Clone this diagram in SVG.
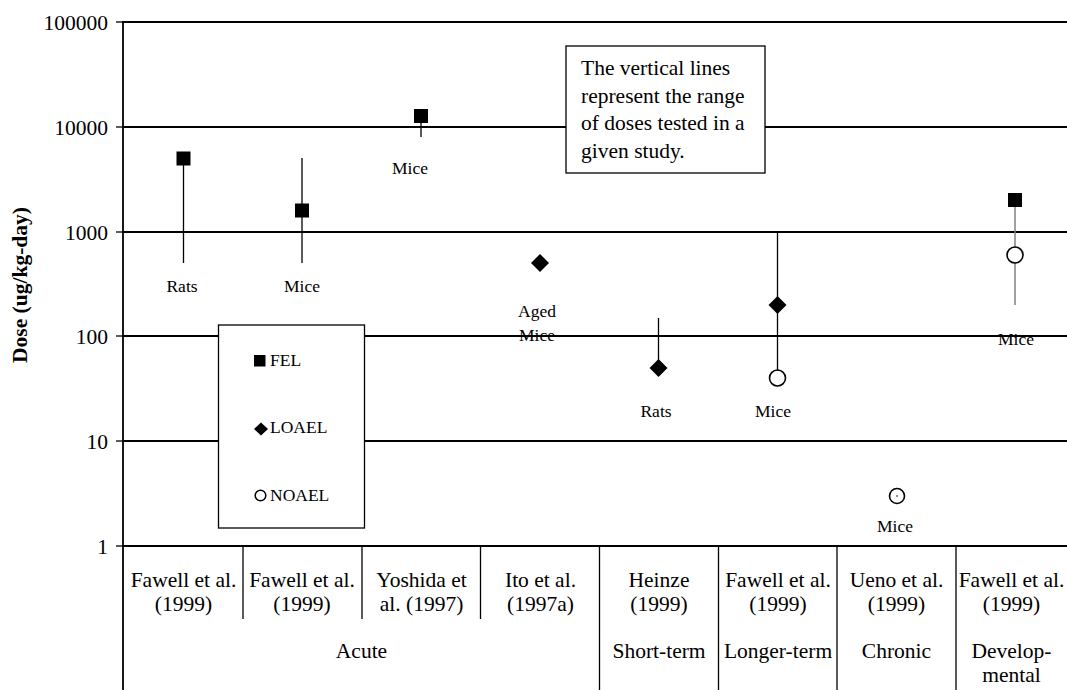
<svg xmlns="http://www.w3.org/2000/svg" width="1067" height="690" viewBox="0 0 1067 690" font-family="'Liberation Serif', 'DejaVu Serif', serif">
<style>
text{font-family:'Liberation Serif','DejaVu Serif',serif;fill:#000}
.t{font-size:21.5px}
.tk{font-size:21.5px;text-anchor:end}
.c{font-size:21.5px;text-anchor:middle}
.d{font-size:17.5px;text-anchor:middle}
.lg{font-size:17.5px}
.grid{stroke:#000;stroke-width:1.8;fill:none}
.ax{stroke:#000;stroke-width:1.3;fill:none}
.rng{stroke:#000;stroke-width:1.3}
.sq{fill:#000}
.ci{fill:#fff;stroke:#000;stroke-width:1.6}
.box{fill:#fff;stroke:#000;stroke-width:1.3}
</style>
<rect width="1067" height="690" fill="#fff"/>
<g id="axes">
<g class="grid">
<line x1="123" y1="22" x2="1067" y2="22"/>
<line x1="123" y1="127" x2="1067" y2="127"/>
<line x1="123" y1="232" x2="1067" y2="232"/>
<line x1="123" y1="336" x2="1067" y2="336"/>
<line x1="123" y1="441" x2="1067" y2="441"/>
<line x1="123" y1="546" x2="1067" y2="546"/>
<line x1="123" y1="21" x2="123" y2="690"/>
</g>
<g class="ax">
<line x1="116" y1="22" x2="123" y2="22"/>
<line x1="116" y1="127" x2="123" y2="127"/>
<line x1="116" y1="232" x2="123" y2="232"/>
<line x1="116" y1="336" x2="123" y2="336"/>
<line x1="116" y1="441" x2="123" y2="441"/>
<line x1="116" y1="546" x2="123" y2="546"/>
<line x1="243" y1="546" x2="243" y2="619"/>
<line x1="362" y1="546" x2="362" y2="619"/>
<line x1="480.5" y1="546" x2="480.5" y2="619"/>
<line x1="599.5" y1="546" x2="599.5" y2="690"/>
<line x1="718.5" y1="546" x2="718.5" y2="690"/>
<line x1="837" y1="546" x2="837" y2="690"/>
<line x1="956" y1="546" x2="956" y2="690"/>
</g>
<text class="tk" x="108" y="29.5">100000</text>
<text class="tk" x="108" y="134.5">10000</text>
<text class="tk" x="108" y="239.5">1000</text>
<text class="tk" x="108" y="343.5">100</text>
<text class="tk" x="108" y="448.5">10</text>
<text class="tk" x="108" y="553.5">1</text>
<text x="27" y="285" font-size="21.5" font-weight="bold" text-anchor="middle" transform="rotate(-90 27 285)">Dose (ug/kg-day)</text>
</g>
<g id="categories">
<text class="c" x="183.5" y="587">Fawell et al.</text>
<text class="c" x="183.5" y="611">(1999)</text>
<text class="c" x="302" y="587">Fawell et al.</text>
<text class="c" x="302" y="611">(1999)</text>
<text class="c" x="421.5" y="587">Yoshida et</text>
<text class="c" x="421.5" y="611">al. (1997)</text>
<text class="c" x="540.5" y="587">Ito et al.</text>
<text class="c" x="540.5" y="611">(1997a)</text>
<text class="c" x="659" y="587">Heinze</text>
<text class="c" x="659" y="611">(1999)</text>
<text class="c" x="778" y="587">Fawell et al.</text>
<text class="c" x="778" y="611">(1999)</text>
<text class="c" x="896.5" y="587">Ueno et al.</text>
<text class="c" x="896.5" y="611">(1999)</text>
<text class="c" x="1011.5" y="587">Fawell et al.</text>
<text class="c" x="1011.5" y="611">(1999)</text>
<text class="c" x="361.5" y="658">Acute</text>
<text class="c" x="659" y="658">Short-term</text>
<text class="c" x="778" y="658">Longer-term</text>
<text class="c" x="896.5" y="658">Chronic</text>
<text class="c" x="1011.5" y="658">Develop-</text>
<text class="c" x="1011.5" y="682">mental</text>
</g>
<g id="connectors">
<line class="rng" x1="183.5" y1="158" x2="183.5" y2="263"/>
<line class="rng" x1="302" y1="158" x2="302" y2="263"/>
<line class="rng" x1="421" y1="116" x2="421" y2="137"/>
<line class="rng" x1="658.5" y1="318" x2="658.5" y2="368"/>
<line class="rng" x1="777.5" y1="232" x2="777.5" y2="378"/>
<line x1="1015" y1="200" x2="1015" y2="305" stroke="#808080" stroke-width="1.5"/>
</g>
<g id="s1"><rect class="sq" x="176.5" y="151.5" width="14" height="14"/><text class="d" x="182" y="292">Rats</text></g>
<g id="s2"><rect class="sq" x="295" y="203.5" width="14" height="14"/><text class="d" x="302" y="292">Mice</text></g>
<g id="s3"><rect class="sq" x="414" y="109" width="14" height="14"/><text class="d" x="410" y="174">Mice</text></g>
<g id="s4"><polygon class="sq" points="540,254 549,263 540,272 531,263"/><text class="d" x="537" y="317">Aged</text><text class="d" x="537" y="341">Mice</text></g>
<g id="s5"><polygon class="sq" points="658.5,359 667.5,368 658.5,377 649.5,368"/><text class="d" x="656" y="417">Rats</text></g>
<g id="s6"><polygon class="sq" points="777.5,296 786.5,305 777.5,314 768.5,305"/><circle class="ci" cx="777.5" cy="378" r="8"/><text class="d" x="773" y="417">Mice</text></g>
<g id="s7"><circle class="ci" cx="897" cy="496" r="7.5"/><circle cx="897" cy="496" r="0.8" fill="#000"/><text class="d" x="895" y="532">Mice</text></g>
<g id="s8"><rect class="sq" x="1008" y="193" width="14" height="14"/><circle class="ci" cx="1015" cy="255" r="8"/><text class="d" x="1016" y="345">Mice</text></g>
<g id="legend">
<rect class="box" x="218.5" y="325" width="146" height="203"/>
<rect class="sq" x="254" y="355" width="11.5" height="11.5"/>
<text class="lg" x="270" y="366">FEL</text>
<polygon class="sq" points="261,422.5 268,429 261,435.5 254,429"/>
<text class="lg" x="270" y="433">LOAEL</text>
<circle cx="260.5" cy="495.5" r="5.3" fill="#fff" stroke="#000" stroke-width="1.5"/>
<text class="lg" x="270" y="501">NOAEL</text>
</g>
<g id="note">
<rect class="box" x="566" y="46" width="199" height="127"/>
<text class="t" x="581" y="75">The vertical lines</text>
<text class="t" x="581" y="102.5">represent the range</text>
<text class="t" x="581" y="130">of doses tested in a</text>
<text class="t" x="581" y="157.5">given study.</text>
</g>
</svg>
